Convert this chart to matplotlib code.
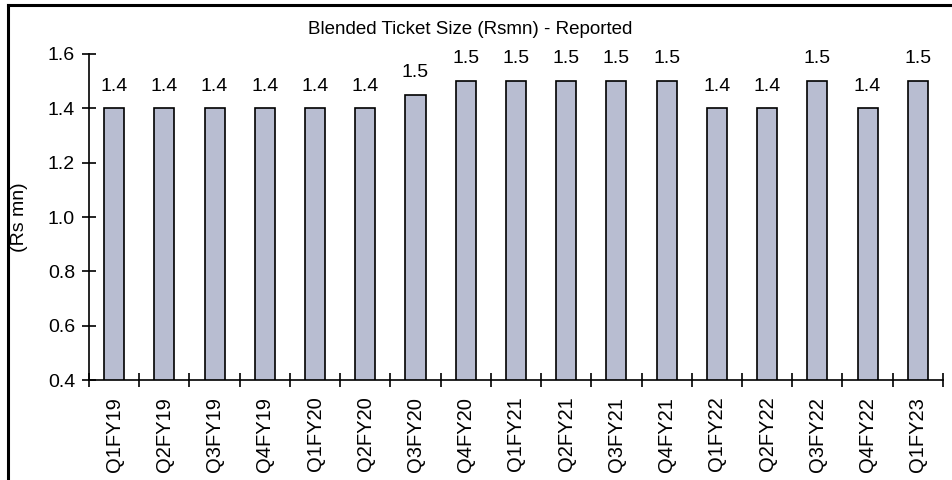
import matplotlib
matplotlib.use("Agg")
import matplotlib.pyplot as plt
from matplotlib.lines import Line2D
from decimal import Decimal, ROUND_HALF_UP

plt.rcParams['font.family'] = ['Liberation Sans', 'DejaVu Sans']

quarters = ['Q1FY19', 'Q2FY19', 'Q3FY19', 'Q4FY19', 'Q1FY20', 'Q2FY20', 'Q3FY20',
            'Q4FY20', 'Q1FY21', 'Q2FY21', 'Q3FY21', 'Q4FY21', 'Q1FY22', 'Q2FY22',
            'Q3FY22', 'Q4FY22', 'Q1FY23']
ticket_size = [1.4, 1.4, 1.4, 1.4, 1.4, 1.4, 1.45, 1.5, 1.5, 1.5, 1.5, 1.5,
               1.4, 1.4, 1.5, 1.4, 1.5]
y_ticks = [0.4, 0.6, 0.8, 1.0, 1.2, 1.4, 1.6]


def fmt(v):
    # round half up, so 1.45 shows as 1.5
    return str(Decimal(str(v)).quantize(Decimal('0.1'), rounding=ROUND_HALF_UP))


fig = plt.figure(figsize=(9.52, 4.8), dpi=100)
ax = fig.add_axes([0.0935, 0.2083, 0.897, 0.6792])

x = list(range(len(quarters)))
ax.bar(x, ticket_size, width=0.4, bottom=0, color='#b8bdd1', edgecolor='black', linewidth=1.2)

for xi, v in zip(x, ticket_size):
    ax.annotate(fmt(v), (xi, v), xytext=(0, 16), textcoords='offset points',
                ha='center', va='center', fontsize=14)

ax.set_ylim(0.4, 1.6)
ax.set_xlim(-0.5, len(quarters) - 0.5)
ax.set_yticks(y_ticks)
ax.set_yticklabels([f"{t:.1f}" for t in y_ticks], fontsize=14)
ax.tick_params(axis='y', direction='inout', length=10, width=1.2, pad=5)

# category boundary ticks on the x axis, labels in the middle
ax.set_xticks([i - 0.5 for i in range(len(quarters) + 1)])
ax.set_xticklabels([])
ax.set_xticks(x, minor=True)
ax.set_xticklabels(quarters, minor=True, rotation=90, fontsize=14.5)
ax.tick_params(axis='x', which='major', direction='inout', length=10, width=1.2)
ax.tick_params(axis='x', which='minor', length=0, pad=12)

for side in ['top', 'right']:
    ax.spines[side].set_visible(False)
for side in ['left', 'bottom']:
    ax.spines[side].set_linewidth(1.2)

ax.set_ylabel('(Rs mn)', fontsize=14)
ax.yaxis.set_label_coords(-0.072, 0.5)

fig.text(0.494, 0.939, 'Blended Ticket Size (Rsmn) - Reported', ha='center', va='center', fontsize=13.5)

# outer frame, left and top edges
fig.add_artist(Line2D([8 / 952, 8 / 952], [0, 1 - 5 / 480], color='black', linewidth=2.2,
                      transform=fig.transFigure))
fig.add_artist(Line2D([8 / 952, 1], [1 - 5 / 480, 1 - 5 / 480], color='black', linewidth=2.2,
                      transform=fig.transFigure))

fig.savefig('out.png', dpi=100)
